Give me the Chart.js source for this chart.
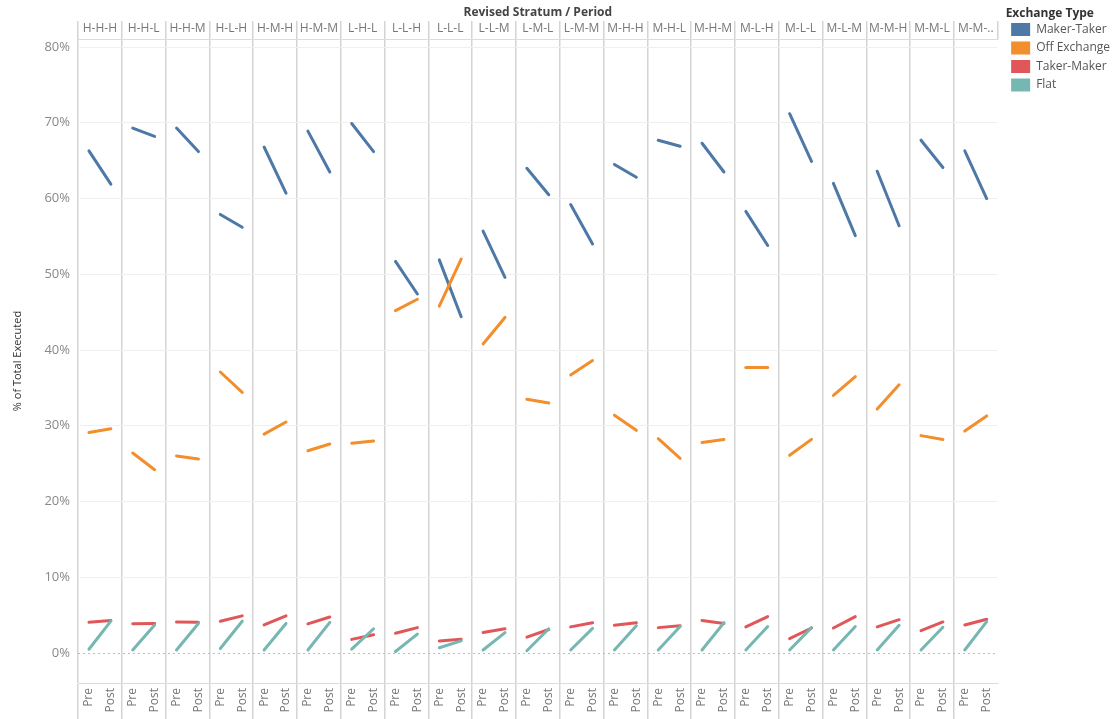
<!DOCTYPE html>
<html>
<head>
<meta charset="utf-8">
<script src="https://cdn.jsdelivr.net/npm/chart.js@4.4.1/dist/chart.umd.min.js"></script>
<style>
html,body{margin:0;padding:0;background:#fff;overflow:hidden}
</style>
</head>
<body>
<canvas id="chart" width="1120" height="719"></canvas>
<script>
// strata along the top, two periods inside each panel
const strata = ["H-H-H","H-H-L","H-H-M","H-L-H","H-M-H","H-M-M","L-H-L","L-L-H","L-L-L","L-L-M","L-M-L",
"L-M-M","M-H-H","M-H-L","M-H-M","M-L-H","M-L-L","M-L-M","M-M-H","M-M-L","M-M-.."];
const periods = ["Pre","Post"];
const yTicks = [0,10,20,30,40,50,60,70,80];

// % of total executed, Pre/Post pairs per stratum
const makerTaker = [66.3,61.9, 69.3,68.2, 69.3,66.2, 57.9,56.2, 66.8,60.7, 68.9,63.5, 69.9,66.2,
51.7,47.4, 51.9,44.4, 55.7,49.6, 64.0,60.5, 59.2,54.0, 64.5,62.8, 67.7,66.9, 67.3,63.5,
58.3,53.8, 71.2,64.9, 62.0,55.1, 63.6,56.4, 67.7,64.1, 66.3,60.0];
const offExchange = [29.1,29.6, 26.4,24.2, 26.0,25.6, 37.1,34.4, 28.9,30.5, 26.7,27.6, 27.7,28.0,
45.2,46.7, 45.8,52.0, 40.8,44.3, 33.5,33.0, 36.7,38.6, 31.4,29.4, 28.3,25.7, 27.8,28.2,
37.7,37.7, 26.1,28.2, 34.0,36.5, 32.2,35.4, 28.7,28.2, 29.3,31.3];
const takerMaker = [4.05,4.3, 3.85,3.9, 4.1,4.05, 4.2,4.9, 3.7,4.9, 3.85,4.75, 1.8,2.4,
2.6,3.35, 1.6,1.8, 2.7,3.2, 2.1,3.1, 3.45,4.0, 3.65,4.0, 3.35,3.6, 4.3,3.9,
3.45,4.8, 1.9,3.3, 3.3,4.8, 3.45,4.4, 2.95,4.1, 3.7,4.45];
const flat = [0.5,4.2, 0.4,3.7, 0.4,3.9, 0.6,4.2, 0.4,3.9, 0.4,4.05, 0.5,3.2,
0.2,2.5, 0.7,1.6, 0.4,2.7, 0.3,3.2, 0.4,3.25, 0.4,3.6, 0.4,3.5, 0.4,4.0,
0.4,3.5, 0.4,3.35, 0.4,3.5, 0.4,3.65, 0.4,3.4, 0.4,4.15];

const labels = strata.flatMap(() => periods);

const font = "'Open Sans', 'DejaVu Sans', sans-serif";

function series(name, data, color, order){
  return {
    label: name,
    data: data,
    borderColor: color,
    backgroundColor: color,
    borderWidth: 3,
    borderCapStyle: 'round',
    pointRadius: 0,
    tension: 0,
    order: order,
    // only join Pre to Post inside a panel
    segment: {
      borderColor: ctx => ctx.p0DataIndex % 2 === 1 ? 'rgba(0,0,0,0)' : undefined
    }
  };
}

new Chart(document.getElementById('chart'), {
  type: 'line',
  data: {
    labels: labels,
    datasets: [
      series('Maker-Taker', makerTaker, '#4e79a7', 4),
      series('Off Exchange', offExchange, '#f28e2b', 3),
      series('Taker-Maker', takerMaker, '#e15759', 2),
      series('Flat', flat, '#76b7b2', 1)
    ]
  },
  options: {
    responsive: false,
    animation: false,
    layout: { padding: 0 },
    plugins: {
      tooltip: { enabled: false },
      legend: {
        position: 'right',
        align: 'start',
        title: {
          display: true,
          position: 'start',
          text: 'Exchange Type',
          color: '#333',
          font: { family: font, size: 12, weight: 'bold' },
          padding: { top: 8, bottom: -5 }
        },
        labels: {
          boxWidth: 19,
          boxHeight: 13,
          padding: 5.5,
          color: '#555',
          font: { family: font, size: 12 },
          sort: (a, b) => a.datasetIndex - b.datasetIndex,
          generateLabels: chart => Chart.defaults.plugins.legend.labels.generateLabels(chart)
            .map(l => Object.assign(l, { lineWidth: 0 }))
        }
      }
    },
    scales: {
      x: {
        type: 'category',
        position: 'bottom',
        offset: true,
        grid: {
          offset: true,
          drawOnChartArea: true,
          tickLength: 36,
          color: ctx => ctx.index % 2 === 0 ? '#d4d4d4' : 'rgba(0,0,0,0)',
          lineWidth: 1.5
        },
        border: { display: true, color: '#dcdcdc' },
        ticks: {
          autoSkip: false,
          minRotation: 90,
          maxRotation: 90,
          padding: -31,
          color: '#777',
          font: { family: font, size: 12 }
        },
        afterFit: s => { s.height = 36; }
      },
      x2: {
        type: 'category',
        position: 'top',
        labels: strata,
        offset: true,
        grid: {
          offset: true,
          drawOnChartArea: false,
          tickLength: 18,
          color: '#d4d4d4',
          lineWidth: 1.5
        },
        border: { display: true, color: '#dcdcdc' },
        ticks: {
          autoSkip: false,
          maxRotation: 0,
          padding: -15,
          color: '#777',
          font: { family: font, size: 12 }
        },
        title: {
          display: true,
          text: 'Revised Stratum / Period',
          color: '#444',
          font: { family: font, size: 12, weight: 'bold' },
          padding: { top: 5, bottom: 0 }
        },
        afterFit: s => { s.height = 39; }
      },
      y: {
        min: -3.96,
        max: 81.06,
        afterBuildTicks: s => { s.ticks = yTicks.map(v => ({ value: v })); },
        grid: {
          drawTicks: false,
          color: ctx => ctx.tick && ctx.tick.value === 0 ? '#bdbdbd' : '#efefef',
          lineWidth: 1
        },
        border: {
          display: false,
          dash: ctx => ctx.tick && ctx.tick.value === 0 ? [2, 3] : []
        },
        ticks: {
          padding: 8,
          color: '#888',
          font: { family: font, size: 13 },
          callback: v => v + '%'
        },
        title: {
          display: true,
          text: '% of Total Executed',
          color: '#333',
          font: { family: font, size: 11 },
          padding: { top: 11, bottom: 0 }
        },
        afterFit: s => { s.width = 78; }
      },
      yRight: {
        position: 'right',
        display: true,
        grid: { display: false },
        border: { display: false },
        ticks: { display: false },
        afterFit: s => { s.width = 8; }
      }
    }
  }
});
</script>
</body>
</html>
